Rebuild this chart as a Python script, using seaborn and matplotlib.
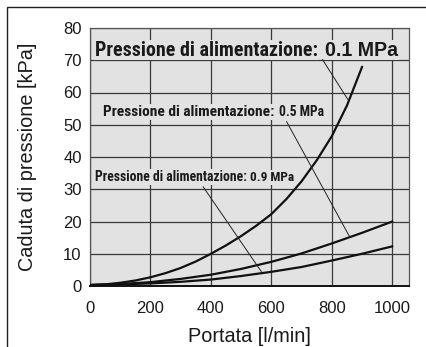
import seaborn as sns
import pandas as pd
import matplotlib.pyplot as plt
from matplotlib.patches import Rectangle

# portata [l/min] vs caduta di pressione [kPa]
x_01 = [0, 50, 100, 150, 200, 250, 300, 350, 400, 450, 500, 550, 600, 650, 700, 750, 800, 850, 900]
y_01 = [0.3, 0.5, 1.0, 1.7, 2.7, 4.0, 5.6, 7.6, 10.0, 12.6, 15.5, 18.7, 22.3, 27.0, 32.5, 39.0, 46.5, 56.0, 68.0]

x_05 = [0, 100, 200, 300, 400, 500, 600, 700, 800, 900, 1000]
y_05 = [0.3, 0.6, 1.2, 2.2, 3.5, 5.3, 7.5, 10.1, 13.2, 16.5, 20.0]

x_09 = [0, 100, 200, 300, 400, 500, 600, 700, 800, 900, 1000]
y_09 = [0.3, 0.5, 0.8, 1.3, 2.0, 3.1, 4.4, 5.9, 7.9, 10.0, 12.3]

label_prefix = "Pressione di alimentazione:"
pressures = ["0.1 MPa", "0.5 MPa", "0.9 MPa"]

df = pd.concat([
    pd.DataFrame({"Portata": x_01, "Caduta": y_01, "p": pressures[0]}),
    pd.DataFrame({"Portata": x_05, "Caduta": y_05, "p": pressures[1]}),
    pd.DataFrame({"Portata": x_09, "Caduta": y_09, "p": pressures[2]}),
])

sns.set_style("white")
plt.rcParams['font.family'] = ['Liberation Sans', 'DejaVu Sans']
bg = "#e2e2e2"
ink = "#1a1a1a"

fig = plt.figure(figsize=(4.27, 3.47), dpi=100)
ax = fig.add_axes([90 / 427, 1 - 286 / 347, 319 / 427, 258 / 347])
ax.set_facecolor(bg)

sns.lineplot(data=df, x="Portata", y="Caduta", units="p", estimator=None,
             color="#111111", linewidth=1.6, ax=ax, sort=False, zorder=3)

ax.set_xlim(0, 1055)
ax.set_ylim(0, 80)
ax.set_xticks([0, 200, 400, 600, 800, 1000])
ax.set_yticks(range(0, 81, 10))
ax.grid(True, color="#3a3a3a", linewidth=0.9, zorder=1)
ax.set_axisbelow(True)
ax.tick_params(length=0, labelsize=12, colors=ink)
ax.tick_params(axis="x", pad=11)
ax.tick_params(axis="y", pad=6)
for s in ax.spines.values():
    s.set_color("#555555")
    s.set_linewidth(0.9)
ax.spines["bottom"].set_color("#111111")
ax.spines["bottom"].set_linewidth(1.4)
ax.set_xlabel("Portata [l/min]", fontsize=14.3, labelpad=8, color=ink)
ax.set_ylabel("Caduta di pressione [kPa]", fontsize=14.3, labelpad=18.5, color=ink)

condensed = ['Roboto Condensed', 'Liberation Sans Narrow', 'Open Sans Condensed', 'Liberation Sans']
box = dict(facecolor=bg, edgecolor="none", pad=0.5)

# etichette: (pressione, x sinistra px, y centro px, larghezza prefisso px, spazio px, larghezza suffisso px, famiglia suffisso)
labels = [
    (pressures[0], 95, 50, 223, 7, 73, ['Liberation Sans', 'DejaVu Sans']),
    (pressures[1], 103, 112, 172, 5, 45, condensed),
    (pressures[2], 95, 177, 152, 3, 44, condensed),
]
# linee di richiamo (dati)
leaders = [
    ((769, 70.2), (853, 57.8)),
    ((650, 51.0), (859, 15.2)),
    ((374, 30.8), (567, 4.4)),
]

fig.canvas.draw()
r = fig.canvas.get_renderer()
H = 347
for (p, lx, cy, w1, gap, w2, fam2), (l0, l1) in zip(labels, leaders):
    t1 = fig.text(lx / 427, 1 - cy / H, label_prefix, fontsize=12, fontweight="bold",
                  family=condensed, va="center", ha="left", color=ink,
                  bbox=box, zorder=4)
    t1.set_fontsize(12 * w1 / t1.get_window_extent(r).width)
    t2 = ax.annotate(p, xy=(1, 0), xycoords=t1, xytext=(gap * 0.72, 0),
                     textcoords="offset points", va="bottom", ha="left",
                     fontsize=10, fontweight="bold", family=fam2, color=ink,
                     bbox=box, zorder=4)
    t2.set_fontsize(10 * w2 / t2.get_window_extent(r).width)
    ax.plot([l0[0], l1[0]], [l0[1], l1[1]], color="#222222", linewidth=0.7, zorder=5)

fig.add_artist(Rectangle((7 / 427, -0.1), 1.2, 1.1 - 7 / 347, transform=fig.transFigure,
                         fill=False, edgecolor="#222222", linewidth=1.0))

fig.savefig("out.png", dpi=100)
